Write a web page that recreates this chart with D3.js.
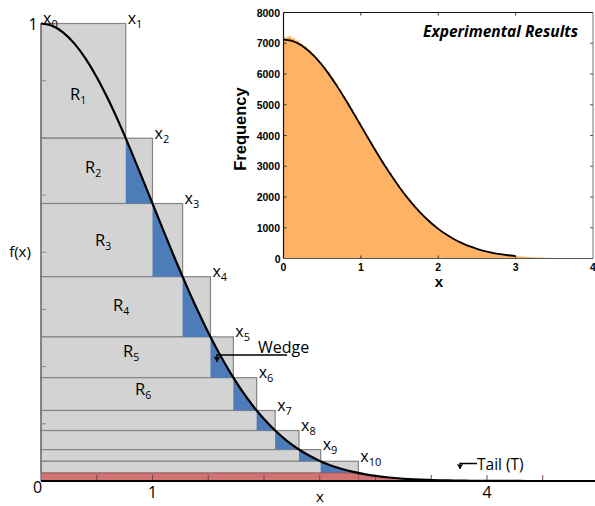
<!DOCTYPE html>
<html><head><meta charset="utf-8">
<script src="https://cdn.jsdelivr.net/npm/d3@7"></script>
<style>
html,body{margin:0;padding:0;background:#fff;}
svg{display:block;}
text{font-family:"Open Sans",sans-serif;}
</style></head>
<body>
<svg id="chart" width="595" height="506"></svg>
<script>
// ---- data ----
// ziggurat layer boundaries x_i and levels f(x_i)
const zigX = [0, 0.76, 1.0, 1.27, 1.52, 1.725, 1.934, 2.10, 2.314, 2.508, 2.846];
const zigF = [1, 0.7492, 0.6065, 0.4465, 0.3150, 0.2259, 0.1541, 0.1103, 0.0686, 0.0431, 0.0174];
const regionLabels = ["R1","R2","R3","R4","R5","R6"];
// density curve f(x), sampled at x = 0, 0.1, ..., 5.0
const curveX = d3.range(0, 5.01, 0.1).map(v => +v.toFixed(1));
const curveF = [1, .9950, .9802, .9560, .9231, .8825, .8353, .7827, .7261, .6670,
  .6065, .5461, .4868, .4296, .3753, .3247, .2780, .2357, .1979, .1645,
  .1353, .1103, .0889, .0710, .0561, .0439, .0340, .0261, .0198, .0149,
  .0111, .0082, .0060, .0043, .0031, .0022, .0015, .0011, .0007, .0005,
  .0003, .0002, .0001, .0001, 0, 0, 0, 0, 0, 0, 0];
const mainXTicks = [0.5,1,1.5,2,2.5,3,3.5,4,4.5,5];
const mainXLabels = [1, 4];
// inset histogram: bins of width 0.05 starting at 0
const histStart = d3.range(0, 4, 0.05).map(v => +v.toFixed(2));
const histCount = [7190, 7230, 7160, 7090, 6990, 6900, 6790, 6660, 6540, 6390,
  6230, 6070, 5880, 5700, 5500, 5290, 5080, 4870, 4660, 4440,
  4225, 4010, 3795, 3585, 3375, 3170, 2975, 2780, 2590, 2410,
  2235, 2070, 1910, 1760, 1615, 1480, 1352, 1232, 1120, 1018,
  920, 830, 748, 672, 602, 538, 480, 427, 378, 335,
  296, 261, 229, 200, 176, 153, 133, 116, 100, 87,
  74, 64, 55, 47, 40, 34, 29, 24, 21, 18,
  15, 12, 10, 8, 6, 5, 4, 3, 2, 2];
// inset fitted curve, x = 0 .. 3.0 step 0.1
const fitX = d3.range(0, 3.01, 0.1).map(v => +v.toFixed(1));
const fitY = [7120, 7084, 6979, 6807, 6573, 6283, 5947, 5573, 5170, 4749,
  4318, 3888, 3466, 3058, 2672, 2312, 1980, 1679, 1409, 1171,
  964, 785, 633, 506, 400, 313, 242, 186, 141, 106, 79];
const insetXTicks = [0,1,2,3,4];
const insetYTicks = [0,1000,2000,3000,4000,5000,6000,7000,8000];

// ---- main chart ----
const svg = d3.select("#chart");
const x = d3.scaleLinear().domain([0, 5]).range([41, 598.5]);
const y = d3.scaleLinear().domain([0, 1]).range([481, 23.5]);
const curvePts = curveX.map((v, i) => [v, curveF[i]]);

const defs = svg.append("defs");
const wedgeClip = defs.append("clipPath").attr("id", "wedgeClip");
for (let i = 2; i < zigX.length; i++) {
  wedgeClip.append("rect")
    .attr("x", x(zigX[i-1])).attr("y", y(zigF[i-1]))
    .attr("width", x(zigX[i]) - x(zigX[i-1]))
    .attr("height", y(zigF[i]) - y(zigF[i-1]));
}
const baseClip = defs.append("clipPath").attr("id", "baseClip");
baseClip.append("rect")
  .attr("x", x(0)).attr("y", y(zigF[10]))
  .attr("width", x(5) - x(0)).attr("height", y(0) - y(zigF[10]));

// layers (gray)
const layers = svg.append("g");
for (let i = 1; i < zigX.length; i++) {
  layers.append("rect")
    .attr("x", x(0)).attr("y", y(zigF[i-1]))
    .attr("width", x(zigX[i]) - x(0))
    .attr("height", y(zigF[i]) - y(zigF[i-1]))
    .attr("fill", "#d3d3d3").attr("stroke", "#858585").attr("stroke-width", 1.2);
}

const areaUnder = d3.area().x(d => x(d[0])).y0(y(0)).y1(d => y(d[1])).curve(d3.curveMonotoneX);
svg.append("path").datum(curvePts).attr("d", areaUnder)
  .attr("fill", "#4d7cb8").attr("clip-path", "url(#wedgeClip)");
svg.append("path").datum(curvePts).attr("d", areaUnder)
  .attr("fill", "#d27373").attr("clip-path", "url(#baseClip)");
svg.append("line").attr("x1", x(0)).attr("x2", x(zigX[10]))
  .attr("y1", y(zigF[10])).attr("y2", y(zigF[10]))
  .attr("stroke", "#a65656").attr("stroke-width", 1);
svg.append("line").attr("x1", x(zigX[10])).attr("x2", x(zigX[10]))
  .attr("y1", y(zigF[10])).attr("y2", y(0))
  .attr("stroke", "#a65656").attr("stroke-width", 1);

// left axis
svg.append("line").attr("x1", x(0)).attr("x2", x(0)).attr("y1", y(1)).attr("y2", y(0))
  .attr("stroke", "#6e6e6e").attr("stroke-width", 1.3);
svg.append("g").selectAll("line").data(d3.range(1, 8).map(k => k * 0.125)).join("line")
  .attr("x1", x(0)).attr("x2", x(0) + 5).attr("y1", d => y(d)).attr("y2", d => y(d))
  .attr("stroke", "#8a8a8a").attr("stroke-width", 1);

// bottom axis
svg.append("g").selectAll("line").data(mainXTicks).join("line")
  .attr("x1", d => x(d)).attr("x2", d => x(d)).attr("y1", y(0)).attr("y2", y(0) - 6)
  .attr("stroke", "#7a4545").attr("stroke-width", 1);
svg.append("line").attr("x1", x(0)).attr("x2", 595).attr("y1", y(0)).attr("y2", y(0))
  .attr("stroke", "#000").attr("stroke-width", 2);

// curve
const line = d3.line().x(d => x(d[0])).y(d => y(d[1])).curve(d3.curveMonotoneX);
svg.append("path").datum(curvePts).attr("d", line)
  .attr("fill", "none").attr("stroke", "#000").attr("stroke-width", 2.2);

// tick labels
svg.append("g").selectAll("text").data(mainXLabels).join("text")
  .attr("x", d => x(d)).attr("y", 498).attr("text-anchor", "middle")
  .attr("font-size", 16).text(d => d);
svg.append("text").attr("x", 37.5).attr("y", 493).attr("text-anchor", "middle")
  .attr("font-size", 16).text("0");
svg.append("text").attr("x", 33).attr("y", 29.5).attr("text-anchor", "middle")
  .attr("font-size", 16).text("1");
svg.append("text").attr("x", 20).attr("y", 257).attr("text-anchor", "middle")
  .attr("font-size", 15).text("f(x)");
svg.append("text").attr("x", 320).attr("y", 502).attr("text-anchor", "middle")
  .attr("font-size", 15).text("x");

// x_i labels
const xl = svg.append("g");
zigX.forEach((v, i) => {
  const t = xl.append("text")
    .attr("x", x(v) + 2).attr("y", y(i === 0 ? 1 : zigF[i-1]) + 0.5)
    .attr("font-size", 16);
  t.append("tspan").text("x");
  t.append("tspan").attr("font-size", 11).attr("dy", 4).text(i);
});

// region labels
const rPos = [[70, 100], [85, 173], [95, 246], [113, 311], [123, 357], [135, 395]];
regionLabels.forEach((r, i) => {
  const t = svg.append("text").attr("x", rPos[i][0]).attr("y", rPos[i][1]).attr("font-size", 16.5);
  t.append("tspan").text(r[0]);
  t.append("tspan").attr("font-size", 10.5).attr("dy", 4).text(r.slice(1));
});

// annotations
defs.append("marker").attr("id", "arr").attr("viewBox", "0 0 10 10")
  .attr("refX", 5).attr("refY", 10).attr("markerWidth", 5).attr("markerHeight", 5)
  .attr("orient", "0")
  .append("path").attr("d", "M0,2 L5,10 L10,2 L5,4 Z").attr("fill", "#000");
svg.append("path").attr("d", "M287,355 H217 V362").attr("fill", "none")
  .attr("stroke", "#000").attr("stroke-width", 1.4).attr("marker-end", "url(#arr)");
svg.append("text").attr("x", 258).attr("y", 353).attr("font-size", 16).text("Wedge");
svg.append("path").attr("d", "M477,463.5 H460 V469").attr("fill", "none")
  .attr("stroke", "#000").attr("stroke-width", 1.3).attr("marker-end", "url(#arr)");
svg.append("text").attr("x", 477).attr("y", 469.5).attr("font-size", 15.5).text("Tail (T)");

// ---- inset ----
const xi = d3.scaleLinear().domain([0, 4]).range([283.5, 593]);
const yi = d3.scaleLinear().domain([0, 8000]).range([258.5, 12.5]);
const ins = svg.append("g");
ins.append("rect").attr("x", xi(0)).attr("y", yi(8000)).attr("width", xi(4) - xi(0))
  .attr("height", yi(0) - yi(8000)).attr("fill", "#fff");
const histPts = histStart.map((d, i) => [d, histCount[i]]);
histPts.push([4, 0]);
ins.append("path").datum(histPts)
  .attr("d", d3.area().x(d => xi(d[0])).y0(yi(0)).y1(d => yi(d[1])).curve(d3.curveStepAfter))
  .attr("fill", "#fdb264");
ins.append("path").datum(fitX.map((v, i) => [v, fitY[i]]))
  .attr("d", d3.line().x(d => xi(d[0])).y(d => yi(d[1])).curve(d3.curveMonotoneX))
  .attr("fill", "none").attr("stroke", "#000").attr("stroke-width", 1.8);
// frame
ins.append("line").attr("x1", xi(0)).attr("x2", xi(4)).attr("y1", yi(8000)).attr("y2", yi(8000)).attr("stroke", "#111").attr("stroke-width", 1);
ins.append("line").attr("x1", xi(4)).attr("x2", xi(4)).attr("y1", yi(8000)).attr("y2", yi(0)).attr("stroke", "#777").attr("stroke-width", 1);
ins.append("line").attr("x1", xi(0)).attr("x2", xi(0)).attr("y1", yi(8000)).attr("y2", yi(0)).attr("stroke", "#111").attr("stroke-width", 1.2);
ins.append("line").attr("x1", xi(0)).attr("x2", xi(4)).attr("y1", yi(0)).attr("y2", yi(0)).attr("stroke", "#555").attr("stroke-width", 1.2);
// ticks
ins.append("g").selectAll("line").data(insetXTicks.slice(1, 4)).join("line")
  .attr("x1", d => xi(d)).attr("x2", d => xi(d)).attr("y1", yi(8000)).attr("y2", yi(8000) + 3)
  .attr("stroke", "#333");
ins.append("g").selectAll("line").data(insetXTicks.slice(1, 4)).join("line")
  .attr("x1", d => xi(d)).attr("x2", d => xi(d)).attr("y1", yi(0)).attr("y2", yi(0) - 3)
  .attr("stroke", "#333");
ins.append("g").selectAll("line").data(insetYTicks.slice(1, 8)).join("line")
  .attr("x1", xi(4)).attr("x2", xi(4) - 3).attr("y1", d => yi(d)).attr("y2", d => yi(d))
  .attr("stroke", "#555");
ins.append("g").selectAll("line").data(insetYTicks.slice(1, 8)).join("line")
  .attr("x1", xi(0)).attr("x2", xi(0) + 3).attr("y1", d => yi(d)).attr("y2", d => yi(d))
  .attr("stroke", "#333");
// tick labels
ins.append("g").selectAll("text").data(insetYTicks).join("text")
  .attr("x", d => d === 0 ? 280.5 : 280).attr("y", d => yi(d) + 4)
  .attr("text-anchor", "end").attr("font-size", 10.5).attr("font-weight", "bold")
  .style("font-family", "'Liberation Sans', Arial, sans-serif").text(d => d);
ins.append("g").selectAll("text").data(insetXTicks).join("text")
  .attr("x", d => xi(d)).attr("y", 271).attr("text-anchor", "middle")
  .attr("font-size", 10.5).attr("font-weight", "bold")
  .style("font-family", "'Liberation Sans', Arial, sans-serif").text(d => d);
ins.append("text").attr("transform", "translate(245.5,129) rotate(-90)")
  .attr("text-anchor", "middle").attr("font-size", 16.5).attr("font-weight", "bold")
  .style("font-family", "'Liberation Sans', Arial, sans-serif").text("Frequency");
ins.append("text").attr("x", 439).attr("y", 287).attr("text-anchor", "middle")
  .attr("font-size", 15).attr("font-weight", "bold")
  .style("font-family", "'Liberation Sans', Arial, sans-serif").text("x");
ins.append("text").attr("x", 578).attr("y", 36.5).attr("text-anchor", "end")
  .attr("font-size", 15.5).attr("font-weight", "bold").attr("font-style", "italic")
  .text("Experimental Results");
</script>
</body></html>
